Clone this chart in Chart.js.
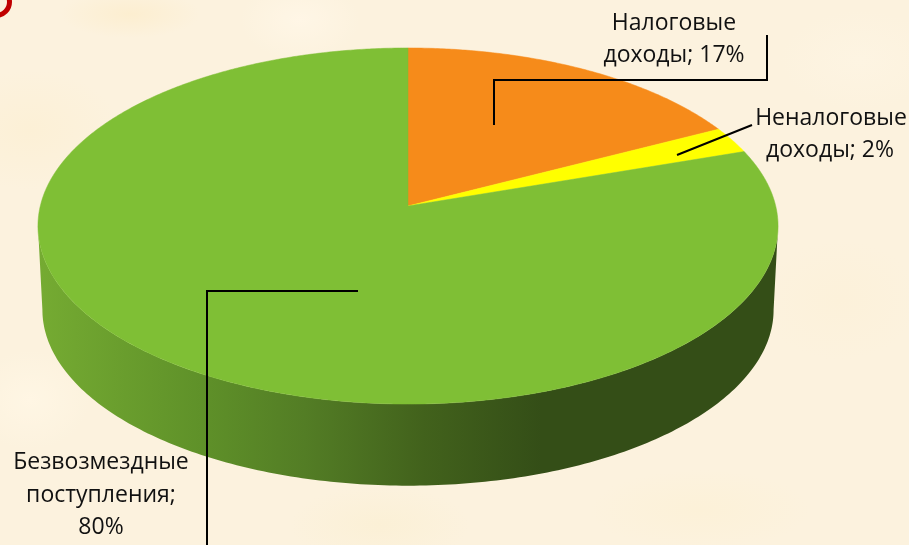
<!DOCTYPE html>
<html lang="ru">
<head>
<meta charset="utf-8">
<title>Структура доходов</title>
<script src="https://cdn.jsdelivr.net/npm/chart.js@4"></script>
<style>
    html, body { margin: 0; padding: 0; width: 909px; height: 545px; overflow: hidden; }
    body {
        position: relative;
        background-color: #fcf2de;
        background-image:
            radial-gradient(ellipse 70px 24px at 130px 14px, #fceed0 0%, transparent 100%),
            radial-gradient(ellipse 60px 40px at 300px 20px, #fff6e6 0%, transparent 100%),
            radial-gradient(ellipse 80px 50px at 860px 60px, #fdf4e2 0%, transparent 100%),
            radial-gradient(ellipse 90px 60px at 30px 130px, #fcf0d6 0%, transparent 100%),
            radial-gradient(ellipse 80px 60px at 840px 300px, #fcf1da 0%, transparent 100%),
            radial-gradient(ellipse 60px 50px at 30px 400px, #fff6e4 0%, transparent 100%),
            radial-gradient(ellipse 110px 40px at 700px 510px, #fcf1d8 0%, transparent 100%),
            radial-gradient(ellipse 90px 40px at 380px 525px, #fbf0d6 0%, transparent 100%);
    }
    #mark {
        position: absolute; left: -20px; top: -14px; width: 22px; height: 22px;
        border: 5px solid #c00000; border-radius: 50%;
    }
    canvas { position: absolute; left: 0; top: 0; }
</style>
</head>
<body>
<div id="mark"></div>
<canvas id="pieChart" width="909" height="545"></canvas>
<script>
// Chart data (the picture prints these rounded, the slice angles show the rest)
const categories = ['Налоговые доходы', 'Неналоговые доходы', 'Безвозмездные поступления'];
const shares = [17.4, 2.4, 80.2];
const sliceColors = ['#f68b1a', '#ffff00', '#7fbf35'];

// Perspective of the tilted disc
const centerX = 408, centerY = 206;
const radiusX = 367.7, radiusY = 175.8, tilt = -0.1124;
const wallDrop = 84, wallShrink = 0.988;

// Label lines, one entry per slice
const labelLines = [
    [[`${categories[0].split(' ')[0]}`, 674, 30], [`${categories[0].split(' ')[1]}; ${Math.round(shares[0])}%`, 674, 62]],
    [[`${categories[1].split(' ')[0]}`, 831, 125], [`${categories[1].split(' ')[1]}; ${Math.round(shares[1])}%`, 830, 157]],
    [[`${categories[2].split(' ')[0]}`, 101, 469], [`${categories[2].split(' ')[1]};`, 101, 502], [`${Math.round(shares[2])}%`, 101, 534]]
];
const leaderLines = [
    [[767, 35], [767, 80], [494, 80], [494, 125]],
    [[752, 125], [677, 155]],
    [[358, 291], [207, 291], [207, 545]]
];

// Project a point of the pie circle onto the tilted disc
function project(arc, angle, shrink = 1, drop = 0) {
    const u = Math.cos(angle);
    const v = Math.sin(angle);
    const w = 1 + tilt * v;
    return [
        centerX + shrink * radiusX * u / w,
        centerY + drop + shrink * radiusY * v / w
    ];
}

function drawWall(ctx, arc) {
    // Widest point of the disc sits slightly behind the middle
    const side = Math.asin(-tilt);
    const from = side;
    const to = Math.PI - side;
    ctx.beginPath();
    for (let i = 0; i <= 200; i++) {
        const p = project(arc, from + (to - from) * i / 200);
        i ? ctx.lineTo(p[0], p[1]) : ctx.moveTo(p[0], p[1]);
    }
    for (let i = 200; i >= 0; i--) {
        const p = project(arc, from + (to - from) * i / 200, wallShrink, wallDrop);
        ctx.lineTo(p[0], p[1]);
    }
    ctx.closePath();
    const shade = ctx.createLinearGradient(38, 0, 778, 0);
    shade.addColorStop(0, '#75ab32');
    shade.addColorStop(0.22, '#5f9129');
    shade.addColorStop(0.36, '#537d25');
    shade.addColorStop(0.52, '#42621c');
    shade.addColorStop(0.68, '#344e17');
    shade.addColorStop(1, '#344e17');
    ctx.fillStyle = shade;
    ctx.fill();
}

function drawSlice(ctx, arc, color) {
    const steps = Math.ceil((arc.endAngle - arc.startAngle) * 120);
    ctx.beginPath();
    ctx.moveTo(centerX, centerY);
    for (let i = 0; i <= steps; i++) {
        const p = project(arc, arc.startAngle + (arc.endAngle - arc.startAngle) * i / steps);
        ctx.lineTo(p[0], p[1]);
    }
    ctx.closePath();
    ctx.fillStyle = color;
    ctx.strokeStyle = color;
    ctx.lineWidth = 0.5;
    ctx.fill();
    ctx.stroke();
}

// Replaces the flat pie drawing with the 3D disc, angles come from the library
const discPlugin = {
    id: 'disc',
    beforeDatasetDraw(chart, args) {
        const ctx = chart.ctx;
        const arcs = args.meta.data;
        ctx.save();
        drawWall(ctx, arcs[0]);
        arcs.forEach((arc, i) => drawSlice(ctx, arc, sliceColors[i]));
        ctx.restore();
        return false;
    },
    afterDraw(chart) {
        const ctx = chart.ctx;
        ctx.save();
        ctx.strokeStyle = '#000';
        ctx.lineWidth = 2;
        leaderLines.forEach(line => {
            ctx.beginPath();
            line.forEach((p, i) => i ? ctx.lineTo(p[0], p[1]) : ctx.moveTo(p[0], p[1]));
            ctx.stroke();
        });
        ctx.fillStyle = '#111';
        ctx.font = '23px "Open Sans"';
        ctx.textAlign = 'center';
        ctx.textBaseline = 'alphabetic';
        labelLines.flat().forEach(l => ctx.fillText(l[0], l[1], l[2]));
        ctx.restore();
    }
};

new Chart(document.getElementById('pieChart'), {
    type: 'pie',
    data: {
        labels: categories,
        datasets: [{ data: shares, backgroundColor: sliceColors, borderWidth: 0 }]
    },
    options: {
        responsive: false,
        animation: false,
        plugins: { legend: { display: false }, tooltip: { enabled: false } }
    },
    plugins: [discPlugin]
});
</script>
</body>
</html>
